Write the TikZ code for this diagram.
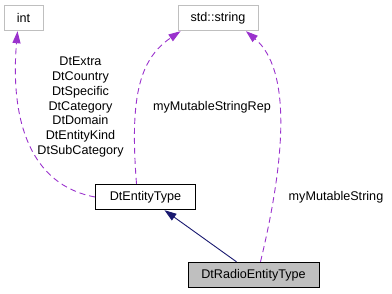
\documentclass[tikz,border=0pt]{standalone}
\usepackage{fontspec}
\setmainfont{Liberation Sans}
\usetikzlibrary{arrows.meta}
\definecolor{edgepurple}{RGB}{154,50,205}
\definecolor{edgenavy}{RGB}{25,25,112}
\definecolor{boxgray}{RGB}{191,191,191}
\tikzset{every picture/.style={line width=0.9pt}}

\begin{document}
\begin{tikzpicture}[x=1pt, y=-1pt,
    every node/.style={font=\fontsize{12.6}{14.8}\selectfont, inner sep=0pt},
    cls/.style={draw, minimum height=25.5pt},
    extcls/.style={cls, draw=boxgray, fill=white},
    curcls/.style={cls, draw=black, fill=boxgray},
    usage/.style={edgepurple, dash pattern=on 6pt off 4pt, -{Triangle[length=12pt,width=8pt]}},
    inherit/.style={edgenavy, -{Triangle[length=12pt,width=8pt]}}]
    \useasboundingbox (0,0) rectangle (392,293);
    % Classes
    \node[extcls, minimum width=39pt] (int) at (23.5,18) {int};
    \node[extcls, minimum width=80pt] (str) at (218,18) {std::string};
    \node[cls, fill=white, minimum width=100pt] (ent) at (145.5,197) {DtEntityType};
    \node[curcls, minimum width=131pt] (radio) at (253.5,275) {DtRadioEntityType};
    % Inheritance
    \draw[inherit] ([xshift=-17pt]radio.north) -- ([xshift=19pt]ent.south);
    % Members
    \draw[usage] (ent.west) .. controls (30,185) and (10,120) .. ([xshift=-6pt]int.south);
    \draw[usage] ([xshift=-9pt]ent.north) .. controls (130,100) and (138,60) .. ([xshift=3pt]str.south west);
    \draw[usage] ([xshift=7pt]radio.north) .. controls (285,160) and (292,70) .. ([xshift=28pt]str.south);
    % Labels
    \node[align=center] (intlbl) at (80.5,107) {DtExtra\\DtCountry\\DtSpecific\\DtCategory\\DtDomain\\DtEntityKind\\DtSubCategory};
    \node (replbl) at (212,107) {myMutableStringRep};
    \node (strlbl) at (336,197) {myMutableString};
\end{tikzpicture}
\end{document}
